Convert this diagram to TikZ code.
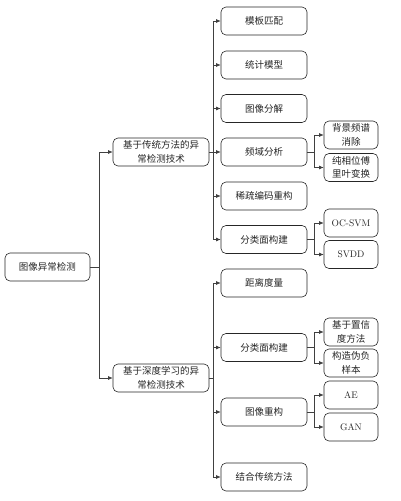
\documentclass[tikz,border=0pt]{standalone}
\usepackage{fontspec}
\newfontfamily\cjk{Noto Sans CJK SC}
\usetikzlibrary{arrows.meta}
\tikzset{
  box/.style={draw=black!85, line width=0.6pt, rounded corners=5pt, minimum height=28pt, inner sep=1pt, align=center, font=\fontsize{9.5}{13.5}\selectfont, text=black!85},
  rootbox/.style={box, minimum width=85pt},
  lonebox/.style={box, minimum width=96pt},
  ltwobox/.style={box, minimum width=86pt},
  lthreebox/.style={box, minimum width=54pt},
  conn/.style={draw=black!75, line width=0.55pt},
  arr/.style={conn, -{Latex[length=4.5pt,width=3.8pt]}}
}
\begin{document}
\begin{tikzpicture}[x=1pt,y=-1pt]
\useasboundingbox (0,0) rectangle (401,501);
% nodes
\node[rootbox] (root) at (47.5,267) {\cjk 图像异常检测};
\node[lonebox] (t1) at (161,152) {\cjk 基于传统方法的异\\\cjk 常检测技术};
\node[lonebox] (t2) at (161,378) {\cjk 基于深度学习的异\\\cjk 常检测技术};
% top level 2
\node[ltwobox] (a1) at (264,21) {\cjk 模板匹配};
\node[ltwobox] (a2) at (264,65) {\cjk 统计模型};
\node[ltwobox] (a3) at (264,108.5) {\cjk 图像分解};
\node[ltwobox] (a4) at (264,152) {\cjk 频域分析};
\node[ltwobox] (a5) at (264,196) {\cjk 稀疏编码重构};
\node[ltwobox] (a6) at (264,239.5) {\cjk 分类面构建};
% top level 3
\node[lthreebox] (a41) at (351,135) {\cjk 背景频谱\\\cjk 消除};
\node[lthreebox] (a42) at (351,167.5) {\cjk 纯相位傅\\\cjk 里叶变换};
\node[lthreebox] (a61) at (351,223) {OC-SVM};
\node[lthreebox] (a62) at (351,254.5) {SVDD};
% bottom level 2
\node[ltwobox] (b1) at (264,283) {\cjk 距离度量};
\node[ltwobox] (b2) at (264,347.5) {\cjk 分类面构建};
\node[ltwobox] (b3) at (264,412) {\cjk 图像重构};
\node[ltwobox] (b4) at (264,477) {\cjk 结合传统方法};
% bottom level 3
\node[lthreebox] (b21) at (351,332) {\cjk 基于置信\\\cjk 度方法};
\node[lthreebox] (b22) at (351,363) {\cjk 构造伪负\\\cjk 样本};
\node[lthreebox] (b31) at (351,395) {AE};
\node[lthreebox] (b32) at (351,427) {GAN};
% junction coordinates
\coordinate (j0) at (99,267);
\coordinate (j1) at (213,152);
\coordinate (j2) at (213,378);
\coordinate (j4) at (314,152);
\coordinate (j6) at (314,239.5);
\coordinate (jb2) at (314,347.5);
\coordinate (jb3) at (314,412);
% connectors
\draw[conn] (root.east) -- (j0);
\draw[arr] (j0) |- (t1);
\draw[arr] (j0) |- (t2);
\draw[conn] (t1.east) -- (j1);
\foreach \n in {a1,a2,a3,a4,a5,a6} \draw[arr] (j1) |- (\n);
\draw[conn] (t2.east) -- (j2);
\foreach \n in {b1,b2,b3,b4} \draw[arr] (j2) |- (\n);
\draw[conn] (a4.east) -- (j4);
\draw[arr] (j4) |- (a41);
\draw[arr] (j4) |- (a42);
\draw[conn] (a6.east) -- (j6);
\draw[arr] (j6) |- (a61);
\draw[arr] (j6) |- (a62);
\draw[conn] (b2.east) -- (jb2);
\draw[arr] (jb2) |- (b21);
\draw[arr] (jb2) |- (b22);
\draw[conn] (b3.east) -- (jb3);
\draw[arr] (jb3) |- (b31);
\draw[arr] (jb3) |- (b32);
\end{tikzpicture}
\end{document}
